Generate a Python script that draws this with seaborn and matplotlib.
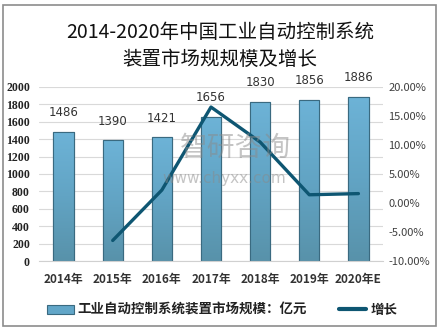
import numpy as np
import pandas as pd
import matplotlib
matplotlib.use("Agg")
import matplotlib.pyplot as plt
from matplotlib.colors import LinearSegmentedColormap
from matplotlib.lines import Line2D
from matplotlib.patches import Patch, Rectangle
import seaborn as sns

# Market size (100 million yuan) and year-on-year growth
years = ["2014年", "2015年", "2016年", "2017年", "2018年", "2019年", "2020年E"]
market_size = [1486, 1390, 1421, 1656, 1830, 1856, 1886]
growth = [None, -6.46, 2.23, 16.54, 10.51, 1.42, 1.62]
left_ticks = [0, 200, 400, 600, 800, 1000, 1200, 1400, 1600, 1800, 2000]
right_ticks = [-10, -5, 0, 5, 10, 15, 20]

title = "2014-2020年中国工业自动控制系统\n装置市场规规模及增长"
bar_label = "工业自动控制系统装置市场规模：亿元"
line_label = "增长"

sns.set_style("white")
plt.rcParams["font.family"] = ["Noto Sans CJK SC", "DejaVu Sans"]

df = pd.DataFrame({"year": years, "size": market_size,
                   "growth": [np.nan if g is None else g for g in growth]})

fig = plt.figure(figsize=(4.4, 3.31), dpi=100)
ax = fig.add_axes([39 / 440, 1 - 261 / 331, (383 - 39) / 440, (261 - 87) / 331])

sns.barplot(data=df, x="year", y="size", ax=ax, width=0.41,
            color="#62a6c8", edgecolor="#3a6a80", linewidth=0.8, zorder=2)

# vertical gradient fill for the bars
cmap = LinearSegmentedColormap.from_list("bar", ["#6db3d7", "#62a4c4", "#5892aa"])
grad = np.linspace(0, 1, 256).reshape(-1, 1)
for p in ax.patches:
    x0, y0 = p.get_x(), p.get_y()
    w, h = p.get_width(), p.get_height()
    im = ax.imshow(grad, cmap=cmap, aspect="auto", extent=[x0, x0 + w, y0, y0 + h],
                   origin="upper", zorder=2.1)
    im.set_clip_path(p)
    ax.add_patch(Rectangle((x0, y0), w, h, fill=False, edgecolor="#3a6a80",
                           linewidth=0.8, zorder=2.2))

for i, v in enumerate(market_size):
    ax.annotate(f"{v}", (i, v), xytext=(0, 9), textcoords="offset points",
                ha="center", va="bottom", fontsize=8.5, color="#333333",
                family=["DejaVu Sans"])

ax.set_xlim(-0.5, len(years) - 0.5)
ax.set_ylim(0, 2000)
ax.set_yticks(left_ticks)
ax.set_yticklabels([str(t) for t in left_ticks], fontsize=8.5, color="#222222",
                   fontweight="bold", family=["Liberation Serif"])
ax.set_xticks(range(len(years)))
ax.set_xticklabels(years, fontsize=8.5, color="#333333", fontweight="bold")
ax.set_xlabel("")
ax.set_ylabel("")
ax.grid(axis="y", color="#d9d9d9", linewidth=0.8, zorder=0)
ax.set_axisbelow(True)
for s in ax.spines.values():
    s.set_visible(False)
ax.spines["bottom"].set_visible(True)
ax.spines["bottom"].set_color("#d0d0d0")
ax.tick_params(axis="y", length=0, pad=6.5)
ax.tick_params(axis="x", length=0, pad=9)

ax2 = ax.twinx()
ax2.set_position(ax.get_position())
sns.lineplot(x=np.arange(len(years)), y=df["growth"], ax=ax2, color="#0e5672",
             linewidth=2.4, zorder=5)
ax2.set_ylim(-10, 20)
ax2.set_yticks(right_ticks)
ax2.set_yticklabels([f"{t:.2f}%" for t in right_ticks], fontsize=8, color="#404040")
ax2.set_ylabel("")
for s in ax2.spines.values():
    s.set_visible(False)
ax2.tick_params(axis="y", length=0, pad=4)

# watermark
fig.text(0.535, 0.553, "智研咨询", ha="center", va="center", fontsize=20,
         color="#8a8a8a", alpha=0.5, zorder=10)
fig.text(0.51, 0.462, "www.chyxx.com", ha="center", va="center", fontsize=11,
         color="#8a8a8a", alpha=0.5, zorder=10, family=["DejaVu Sans"])

fig.text(0.5, 1 - 46 / 331, title, ha="center", va="center", fontsize=14,
         color="#111111", linespacing=1.35)

handles = [Patch(facecolor="#62a6c8", edgecolor="#3a6a80", linewidth=0.8),
           Line2D([0], [0], color="#0e5672", linewidth=3)]
fig.legend(handles, [bar_label, line_label], loc="center",
           bbox_to_anchor=(222 / 440, 1 - 310 / 331), ncol=2, frameon=False,
           prop={"size": 9.7, "weight": "bold"}, handlelength=2.0,
           handletextpad=0.3, columnspacing=2.4, labelcolor="#222222")

fig.add_artist(Rectangle((3 / 440, 1 - 326 / 331), 433 / 440, 321 / 331,
                         transform=fig.transFigure, fill=False,
                         edgecolor="#8c8c8c", linewidth=1.2))

fig.savefig("out.png", dpi=100)
